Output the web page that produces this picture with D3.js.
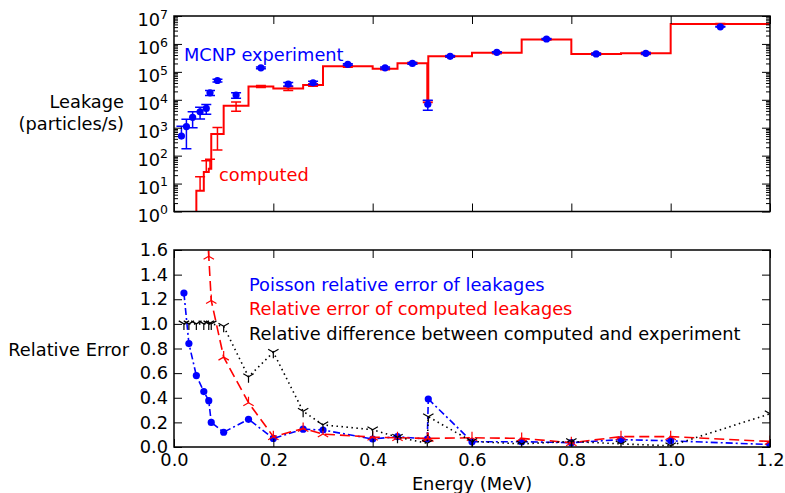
<!DOCTYPE html>
<html>
<head>
<meta charset="utf-8">
<script src="https://cdn.jsdelivr.net/npm/d3@7"></script>
<style>
  body { margin: 0; background: #fff; }
  svg { display: block; }
  text { font-family: "DejaVu Sans", sans-serif; }
</style>
</head>
<body>
<div id="chart"></div>
<script>
// energy bin edges (MeV)
const edges = [0.01, 0.02, 0.03, 0.045, 0.06, 0.07, 0.075, 0.1, 0.15, 0.2, 0.26, 0.3,
  0.4, 0.45, 0.51, 0.512, 0.6, 0.7, 0.8, 0.9, 1.0, 1.2];
// leakage per bin (particles/s)
const experiment = [500, 1100, 2350, 3700, 4900, 17800, 49000, 14700, 140000, 36500, 40500,
  184000, 139000, 200000, 6900, 360000, 500000, 1500000, 440000, 460000, 4100000];
const computed = [0, 0, 0, 5.5, 26, 34, 590, 6100, 30000, 25500, 34000,
  160000, 128000, 205000, 8600, 360000, 480000, 1440000, 440000, 460000, 5200000];
// relative errors, plotted at the upper bin edge
const poissonErr = [1.25, 0.84, 0.58, 0.45, 0.376, 0.20, 0.12, 0.225, 0.07, 0.145, 0.138,
  0.065, 0.084, 0.065, 0.39, 0.043, 0.043, 0.035, 0.06, 0.05, 0.02];
const compRelErr = [null, null, null, 2.2, 1.55, 1.19, 0.73, 0.36, 0.084, 0.15, 0.105,
  0.08, 0.075, 0.07, 0.07, 0.075, 0.07, 0.035, 0.084, 0.084, 0.045];
const relDiff = [1.0, 1.0, 1.0, 1.0, 1.0, 1.0, 0.98, 0.57, 0.77, 0.29, 0.18,
  0.14, 0.08, 0.03, 0.246, 0.045, 0.025, 0.045, 0.025, 0.01, 0.27];

const xTicks = [0, 0.2, 0.4, 0.6, 0.8, 1.0, 1.2];
const relTicks = [0, 0.2, 0.4, 0.6, 0.8, 1.0, 1.2, 1.4, 1.6];
const decades = [0, 1, 2, 3, 4, 5, 6, 7];

const W = 785, H = 493;
const left = 174, right = 770;
const top1 = 16, bot1 = 211.5, top2 = 250, bot2 = 447;
const fs = 17.8;

const svg = d3.select("#chart").append("svg")
  .attr("width", W).attr("height", H);

const x = d3.scaleLinear().domain([0, 1.2]).range([left, right]);
const yLog = d3.scaleLog().domain([1, 1e7]).range([bot1, top1]);
const yRel = d3.scaleLinear().domain([0, 1.6]).range([bot2, top2]);

const defs = svg.append("defs");
defs.append("clipPath").attr("id", "clipTop").append("rect")
  .attr("x", left).attr("y", top1).attr("width", right - left).attr("height", bot1 - top1);
defs.append("clipPath").attr("id", "clipBot").append("rect")
  .attr("x", left).attr("y", top2).attr("width", right - left).attr("height", bot2 - top2);

const centers = edges.slice(0, -1).map((e, i) => (e + edges[i + 1]) / 2);
const upper = edges.slice(1);

// ---------- top panel ----------
const gTop = svg.append("g").attr("clip-path", "url(#clipTop)");

// step histogram of computed leakage
const first = computed.findIndex(v => v > 0);
const stepPts = [{ x: edges[first], y: 0.1 }];
for (let i = first; i < computed.length; i++) stepPts.push({ x: edges[i], y: computed[i] });
stepPts.push({ x: edges[edges.length - 1], y: computed[computed.length - 1] });

gTop.append("path")
  .datum(stepPts)
  .attr("d", d3.line().x(d => x(d.x)).y(d => yLog(d.y)).curve(d3.curveStepAfter))
  .attr("fill", "none")
  .attr("stroke", "#ff0000")
  .attr("stroke-width", 2);

function errBars(g, xs, vals, errs, color, cap) {
  xs.forEach((xv, i) => {
    const v = vals[i];
    if (!(v > 0) || errs[i] == null) return;
    const e = v * errs[i];
    const hi = v + e, lo = v - e;
    const cx = x(xv);
    const yHi = yLog(hi);
    const yLo = lo > 0 ? yLog(lo) : yLog(v);
    g.append("line").attr("x1", cx).attr("x2", cx).attr("y1", yHi).attr("y2", yLo)
      .attr("stroke", color).attr("stroke-width", 1.5);
    g.append("line").attr("x1", cx - cap).attr("x2", cx + cap).attr("y1", yHi).attr("y2", yHi)
      .attr("stroke", color).attr("stroke-width", 1.5);
    if (lo > 0) {
      g.append("line").attr("x1", cx - cap).attr("x2", cx + cap).attr("y1", yLo).attr("y2", yLo)
        .attr("stroke", color).attr("stroke-width", 1.5);
    }
  });
}

errBars(gTop, centers, computed, compRelErr, "#ff0000", 5);
errBars(gTop, centers, experiment, poissonErr, "#0000ff", 5);

gTop.selectAll(".exp")
  .data(experiment)
  .join("circle")
  .attr("class", "exp")
  .attr("cx", (d, i) => x(centers[i]))
  .attr("cy", d => yLog(d))
  .attr("r", 3.6)
  .attr("fill", "#0000ff");

svg.append("text").attr("x", 184).attr("y", 60.5)
  .attr("font-size", fs).attr("fill", "#0000ff").text("MCNP experiment");
svg.append("text").attr("x", 219).attr("y", 181)
  .attr("font-size", fs).attr("fill", "#ff0000").text("computed");

// ---------- bottom panel ----------
const gBot = svg.append("g").attr("clip-path", "url(#clipBot)");

const series = [
  { vals: poissonErr, color: "#0000ff", dash: "7,3,2,3", marker: "o" },
  { vals: compRelErr, color: "#ff0000", dash: "10,5", marker: "triUp" },
  { vals: relDiff, color: "#000000", dash: "1.5,3.5", marker: "triDown" }
];

const relLine = d3.line()
  .defined(d => d.v != null)
  .x(d => x(d.x))
  .y(d => yRel(d.v));

const r = 6;
const markerPath = {
  triUp: `M0,0L0,${-r}M0,0L${r * 0.866},${r * 0.5}M0,0L${-r * 0.866},${r * 0.5}`,
  triDown: `M0,0L0,${r}M0,0L${r * 0.866},${-r * 0.5}M0,0L${-r * 0.866},${-r * 0.5}`
};

series.forEach(s => {
  const pts = s.vals.map((v, i) => ({ x: upper[i], v: v }));
  gBot.append("path")
    .datum(pts)
    .attr("d", relLine)
    .attr("fill", "none")
    .attr("stroke", s.color)
    .attr("stroke-width", 1.6)
    .attr("stroke-dasharray", s.dash);
  const valid = pts.filter(d => d.v != null);
  if (s.marker === "o") {
    gBot.selectAll(null).data(valid).join("circle")
      .attr("cx", d => x(d.x)).attr("cy", d => yRel(d.v))
      .attr("r", 3.6).attr("fill", s.color);
  } else {
    gBot.selectAll(null).data(valid).join("path")
      .attr("transform", d => `translate(${x(d.x)},${yRel(d.v)})`)
      .attr("d", markerPath[s.marker])
      .attr("fill", "none").attr("stroke", s.color).attr("stroke-width", 1.2);
  }
});

const legend = [
  { label: "Poisson relative error of leakages", color: "#0000ff" },
  { label: "Relative error of computed leakages", color: "#ff0000" },
  { label: "Relative difference between computed and experiment", color: "#000000" }
];
svg.selectAll(".leg").data(legend).join("text")
  .attr("class", "leg")
  .attr("x", 249)
  .attr("y", (d, i) => 290.5 + i * 24.7)
  .attr("font-size", fs)
  .attr("fill", d => d.color)
  .text(d => d.label);

// ---------- axes ----------
function styleAxis(g) {
  g.select(".domain").remove();
  g.selectAll(".tick line").attr("stroke", "#000").attr("stroke-width", 1);
  g.selectAll(".tick text").attr("font-size", fs).attr("fill", "#000")
    .attr("font-family", "DejaVu Sans, sans-serif");
}

function xAxes(yTopEdge, yBotEdge, labels) {
  svg.append("g").attr("transform", `translate(0,${yTopEdge})`)
    .call(d3.axisTop(x).tickValues(xTicks).tickSize(-8).tickFormat(""))
    .call(styleAxis);
  svg.append("g").attr("transform", `translate(0,${yBotEdge})`)
    .call(d3.axisBottom(x).tickValues(xTicks).tickSize(-8).tickPadding(6)
      .tickFormat(labels ? d3.format(".1f") : ""))
    .call(styleAxis);
}
xAxes(top1, bot1, false);
xAxes(top2, bot2, true);

// log y axis with superscript labels and minor ticks
const majors = decades.map(d => Math.pow(10, d));
const minors = [];
decades.slice(0, -1).forEach(d => {
  for (let k = 2; k <= 9; k++) minors.push(k * Math.pow(10, d));
});

const gLogL = svg.append("g").attr("transform", `translate(${left},0)`)
  .call(d3.axisLeft(yLog).tickValues(majors).tickSize(-8).tickPadding(6).tickFormat(""))
  .call(styleAxis);
gLogL.selectAll(".tick text")
  .attr("dy", "0.55em")
  .each(function (d) {
    const t = d3.select(this);
    t.append("tspan").text("10");
    t.append("tspan").attr("dy", "-0.6em").attr("font-size", 12.5).text(Math.round(Math.log10(d)));
  });
svg.append("g").attr("transform", `translate(${left},0)`)
  .call(d3.axisLeft(yLog).tickValues(minors).tickSize(-4).tickFormat(""))
  .call(styleAxis);
svg.append("g").attr("transform", `translate(${right},0)`)
  .call(d3.axisRight(yLog).tickValues(majors).tickSize(-8).tickFormat(""))
  .call(styleAxis);
svg.append("g").attr("transform", `translate(${right},0)`)
  .call(d3.axisRight(yLog).tickValues(minors).tickSize(-4).tickFormat(""))
  .call(styleAxis);

svg.append("g").attr("transform", `translate(${left},0)`)
  .call(d3.axisLeft(yRel).tickValues(relTicks).tickSize(-8).tickPadding(6).tickFormat(d3.format(".1f")))
  .call(styleAxis);
svg.append("g").attr("transform", `translate(${right},0)`)
  .call(d3.axisRight(yRel).tickValues(relTicks).tickSize(-8).tickFormat(""))
  .call(styleAxis);

// frames
[[top1, bot1], [top2, bot2]].forEach(([t, b]) => {
  svg.append("rect").attr("x", left).attr("y", t)
    .attr("width", right - left).attr("height", b - t)
    .attr("fill", "none").attr("stroke", "#000").attr("stroke-width", 1.5);
});

// axis labels
const yl = svg.append("text").attr("text-anchor", "end").attr("font-size", fs);
yl.append("tspan").attr("x", 124).attr("y", 108).text("Leakage");
yl.append("tspan").attr("x", 124).attr("y", 129.5).text("(particles/s)");
svg.append("text").attr("x", 129).attr("y", 356).attr("text-anchor", "end")
  .attr("font-size", fs).text("Relative Error");
svg.append("text").attr("x", (left + right) / 2).attr("y", 490).attr("text-anchor", "middle")
  .attr("font-size", fs).text("Energy (MeV)");
</script>
</body>
</html>
